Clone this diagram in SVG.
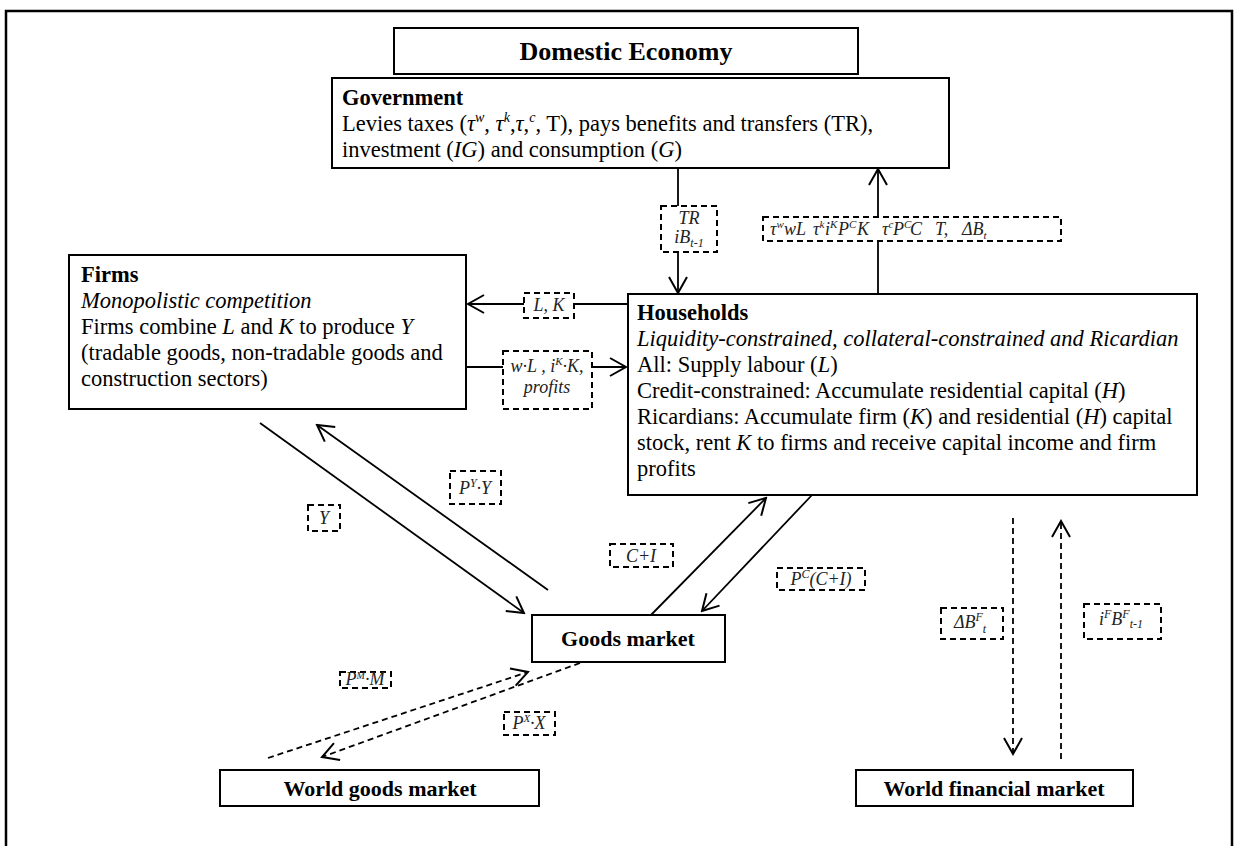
<svg xmlns="http://www.w3.org/2000/svg" width="1244" height="846" viewBox="0 0 1244 846">
<defs>
<marker id="arr" markerUnits="userSpaceOnUse" markerWidth="20" markerHeight="22" viewBox="-18 -11 20 22" refX="0" refY="0" orient="auto">
<path d="M-16,-9 L0,0 L-16,9" fill="none" stroke="#000" stroke-width="2"/>
</marker>
<style>
.box{fill:#fff;stroke:#000;stroke-width:2}
.lbl{fill:#fff;stroke:#000;stroke-width:2;stroke-dasharray:6,4}
.con{fill:none;stroke:#000;stroke-width:1.8;marker-end:url(#arr)}
.dash{stroke-dasharray:6,4}
.t{font-family:"Liberation Serif","Times New Roman",serif;font-size:22.5px;fill:#000}
.b{font-weight:bold}
.i{font-style:italic}
.hd{font-family:"Liberation Serif","Times New Roman",serif;font-size:22px;font-weight:bold;fill:#000;text-anchor:middle}
.s{font-family:"Liberation Serif","Times New Roman",serif;font-size:18px;font-style:italic;fill:#222}
</style>
</defs>
<rect width="1244" height="846" fill="#fff"/>
<path d="M6,846 V11 H1232 V846" fill="none" stroke="#000" stroke-width="2.5"/>

<g id="connectors">
<line class="con" x1="678" y1="168" x2="678" y2="293"/>
<line class="con" x1="878" y1="294" x2="878" y2="169"/>
<line class="con" x1="628" y1="304" x2="468" y2="304"/>
<line class="con" x1="466" y1="367" x2="626" y2="367"/>
<line class="con" x1="260" y1="423" x2="524" y2="613"/>
<line class="con" x1="548" y1="590" x2="317" y2="425"/>
<line class="con" x1="651" y1="615" x2="766" y2="498"/>
<line class="con" x1="812" y1="495" x2="702" y2="611"/>
<line class="con dash" x1="268" y1="758" x2="528" y2="672"/>
<line class="con dash" x1="580" y1="663" x2="322" y2="757"/>
<line class="con dash" x1="1013" y1="518" x2="1013" y2="754"/>
<line class="con dash" x1="1061" y1="759" x2="1061" y2="521"/>
</g>

<g id="domestic">
<rect class="box" x="394" y="28" width="464" height="46"/>
<text class="hd" x="626" y="60" style="font-size:26px">Domestic Economy</text>
</g>

<g id="government">
<rect class="box" x="332" y="78" width="617" height="90"/>
<text class="t b" x="342" y="105">Government</text>
<text class="t" x="342" y="131">Levies taxes (<tspan class="i">τ</tspan><tspan class="i" font-size="14" dy="-9">w</tspan><tspan dy="9">, </tspan><tspan class="i">τ</tspan><tspan class="i" font-size="14" dy="-9">k</tspan><tspan dy="9">,</tspan><tspan class="i">τ</tspan>,<tspan class="i" font-size="14" dy="-9">c</tspan><tspan dy="9">, T), pays benefits and transfers (TR),</tspan></text>
<text class="t" x="342" y="157">investment (<tspan class="i">IG</tspan>) and consumption (<tspan class="i">G</tspan>)</text>
</g>

<g id="firms">
<rect class="box" x="69" y="255" width="397" height="154"/>
<text class="t b" x="81" y="282">Firms</text>
<text class="t i" x="81" y="308">Monopolistic competition</text>
<text class="t" x="81" y="334">Firms combine <tspan class="i">L</tspan> and <tspan class="i">K</tspan> to produce <tspan class="i">Y</tspan></text>
<text class="t" x="81" y="360">(tradable goods, non-tradable goods and</text>
<text class="t" x="81" y="386">construction sectors)</text>
</g>

<g id="households">
<rect class="box" x="628" y="294" width="569" height="201"/>
<text class="t b" x="637" y="320">Households</text>
<text class="t i" x="637" y="346">Liquidity-constrained, collateral-constrained and Ricardian</text>
<text class="t" x="637" y="372">All: Supply labour (<tspan class="i">L</tspan>)</text>
<text class="t" x="637" y="398">Credit-constrained: Accumulate residential capital (<tspan class="i">H</tspan>)</text>
<text class="t" x="637" y="424">Ricardians: Accumulate firm (<tspan class="i">K</tspan>) and residential (<tspan class="i">H</tspan>) capital</text>
<text class="t" x="637" y="450">stock, rent <tspan class="i">K</tspan> to firms and receive capital income and firm</text>
<text class="t" x="637" y="476">profits</text>
</g>

<g id="goods-market">
<rect class="box" x="532" y="615" width="193" height="47"/>
<text class="hd" x="628" y="646">Goods market</text>
</g>

<g id="world-goods-market">
<rect class="box" x="220" y="770" width="319" height="36"/>
<text class="hd" x="380" y="796">World goods market</text>
</g>

<g id="world-financial-market">
<rect class="box" x="856" y="770" width="277" height="36"/>
<text class="hd" x="994" y="796">World financial market</text>
</g>

<g id="labels">
<rect class="lbl" x="661" y="206" width="56" height="46"/>
<text class="s" x="689" y="224" text-anchor="middle">TR</text>
<text class="s" x="689" y="243" text-anchor="middle">iB<tspan font-size="12" dy="4">t-1</tspan></text>

<rect class="lbl" x="763" y="217" width="298" height="24"/>
<text class="s" y="235"><tspan x="770">τ</tspan><tspan font-size="11" dy="-7">w</tspan><tspan x="784" dy="7">wL</tspan><tspan x="813">τ</tspan><tspan font-size="11" dy="-7">k</tspan><tspan x="825" dy="7">i</tspan><tspan font-size="11" dy="-7">K</tspan><tspan x="838" dy="7">P</tspan><tspan font-size="11" dy="-7">C</tspan><tspan x="857" dy="7">K</tspan><tspan x="882">τ</tspan><tspan font-size="11" dy="-7">c</tspan><tspan x="893" dy="7">P</tspan><tspan font-size="11" dy="-7">C</tspan><tspan x="910" dy="7">C</tspan><tspan x="935">T,</tspan><tspan x="962">ΔB</tspan><tspan font-size="11" dy="4">t</tspan></text>

<rect class="lbl" x="524" y="293" width="50" height="25"/>
<text class="s" x="549" y="311" text-anchor="middle">L, K</text>

<rect class="lbl" x="503" y="351" width="89" height="58"/>
<text class="s" x="547" y="372" text-anchor="middle">w·L , i<tspan font-size="11" dy="-7">K</tspan><tspan dy="7">·K,</tspan></text>
<text class="s" x="547" y="393" text-anchor="middle">profits</text>

<rect class="lbl" x="450" y="471" width="51" height="33"/>
<text class="s" x="475" y="494" text-anchor="middle">P<tspan font-size="12" dy="-7">Y</tspan><tspan dy="7">·Y</tspan></text>

<rect class="lbl" x="308" y="505" width="32" height="26"/>
<text class="s" x="324" y="524" text-anchor="middle">Y</text>

<rect class="lbl" x="610" y="544" width="63" height="23"/>
<text class="s" x="641" y="562" text-anchor="middle">C+I</text>

<rect class="lbl" x="777" y="568" width="88" height="22"/>
<text class="s" x="821" y="585" text-anchor="middle">P<tspan font-size="12" dy="-7">C</tspan><tspan dy="7">(C+I)</tspan></text>

<rect class="lbl" x="340" y="672" width="51" height="16"/>
<text class="s" x="365" y="685" text-anchor="middle" font-size="16">P<tspan font-size="10" dy="-6">M</tspan><tspan dy="6">·M</tspan></text>

<rect class="lbl" x="504" y="712" width="51" height="23"/>
<text class="s" x="529" y="729" text-anchor="middle">P<tspan font-size="11" dy="-7">X</tspan><tspan dy="7">·X</tspan></text>

<rect class="lbl" x="941" y="608" width="62" height="31"/>
<text class="s" x="970" y="628" text-anchor="middle">ΔB<tspan font-size="12" dy="-7">F</tspan><tspan font-size="12" dy="12">t</tspan></text>

<rect class="lbl" x="1084" y="604" width="77" height="35"/>
<text class="s" x="1121" y="625" text-anchor="middle">i<tspan font-size="12" dy="-7">F</tspan><tspan dy="7">B</tspan><tspan font-size="12" dy="-7">F</tspan><tspan font-size="12" dy="10">t-1</tspan></text>
</g>
</svg>
